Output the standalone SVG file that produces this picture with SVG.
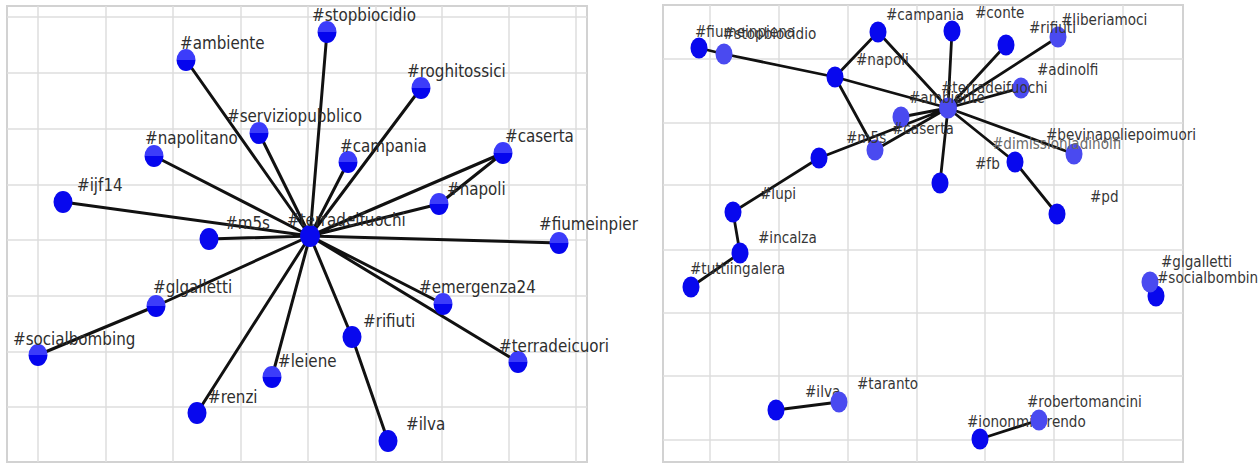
<svg xmlns="http://www.w3.org/2000/svg" width="1259" height="466" viewBox="0 0 1259 466">
<defs>
<linearGradient id="ng" x1="0" y1="0" x2="0" y2="1">
<stop offset="0" stop-color="#3c3cfa"/><stop offset="0.5" stop-color="#3c3cfa"/>
<stop offset="0.5" stop-color="#0505ee"/><stop offset="1" stop-color="#0505ee"/>
</linearGradient>
<style>
.bg{fill:#fff}
.frame{fill:none;stroke:#d2d2d2;stroke-width:2}
.grid{fill:none;stroke:#dedede;stroke-width:1.5}
.e{stroke:#111;stroke-width:3;stroke-linecap:round}
.n{fill:url(#ng)}
.nd{fill:#0808ee}
.nl{fill:#4a4af0}
.t{font-family:"DejaVu Sans","Liberation Sans",sans-serif;fill:#2e2e2e}
.tl{font-size:17px}
.tr{font-size:15.8px;fill:#363636}
.tg{fill:#6a6a6a}
</style>
</defs>
<rect class="bg" x="0" y="0" width="1259" height="466"/>
<g id="left-axes">
<rect class="frame" x="7" y="6" width="580" height="456"/>
<path class="grid" d="M38 6V462M106 6V462M173 6V462M241 6V462M308 6V462M376 6V462M442 6V462M509 6V462M576 6V462M7 17H587M7 73H587M7 129H587M7 185H587M7 240H587M7 296H587M7 352H587M7 407H587"/>
</g>
<g id="right-axes">
<rect class="frame" x="663" y="5" width="520" height="457"/>
<path class="grid" d="M710 5V462M779 5V462M848 5V462M917 5V462M985 5V462M1054 5V462M1123 5V462M663 59H1183M663 123H1183M663 185H1183M663 250H1183M663 313H1183M663 376H1183M663 440H1183"/>
</g>
<g id="connectors">
<path class="e" d="M310 236L186 60M310 236L259 133M310 236L154 156M310 236L63 202M310 236L209 239M310 236L327 32M310 236L421 88M310 236L348 162M310 236L503 153M310 236L439 204M439 204L503 153M310 236L559 243M310 236L443 304M310 236L352 337M352 337L388 441M310 236L518 362M310 236L156 306M156 306L38 355M310 236L272 377M310 236L197 413"/>
<path class="e" style="stroke-width:2.8" d="M699 48L724 54M724 54L835 77M835 77L948 108M835 77L878 32M878 32L948 108M835 77L875 150M875 150L948 108M901 117L948 108M819 158L948 108M819 158L733 212M733 212L740 253M740 253L691 287M948 108L952 31M948 108L1006 45M948 108L1058 37M948 108L1021 88M948 108L1074 154M948 108L1015 162M1015 162L1057 214M948 108L940 183M776 410L839 402M980 439L1039 420"/>
</g>
<g id="L-ambiente"><ellipse class="n" cx="186" cy="60" rx="9.5" ry="11"/><text class="t tl" transform="translate(180 49) scale(0.89 1)">#ambiente</text></g>
<g id="L-serviziopubblico"><ellipse class="n" cx="259" cy="133" rx="9.5" ry="11"/><text class="t tl" transform="translate(227 122) scale(0.89 1)">#serviziopubblico</text></g>
<g id="L-napolitano"><ellipse class="n" cx="154" cy="156" rx="9.5" ry="11"/><text class="t tl" transform="translate(145 144) scale(0.89 1)">#napolitano</text></g>
<g id="L-ijf14"><ellipse class="nd" cx="63" cy="202" rx="9.5" ry="11"/><text class="t tl" transform="translate(77 191) scale(0.89 1)">#ijf14</text></g>
<g id="L-m5s"><ellipse class="nd" cx="209" cy="239" rx="9.5" ry="11"/><text class="t tl" transform="translate(225 229) scale(0.89 1)">#m5s</text></g>
<g id="L-stopbiocidio"><ellipse class="n" cx="327" cy="32" rx="9.5" ry="11"/><text class="t tl" transform="translate(312 21) scale(0.89 1)">#stopbiocidio</text></g>
<g id="L-roghitossici"><ellipse class="n" cx="421" cy="88" rx="9.5" ry="11"/><text class="t tl" transform="translate(407 77) scale(0.89 1)">#roghitossici</text></g>
<g id="L-campania"><ellipse class="n" cx="348" cy="162" rx="9.5" ry="11"/><text class="t tl" transform="translate(340 152) scale(0.89 1)">#campania</text></g>
<g id="L-caserta"><ellipse class="n" cx="503" cy="153" rx="9.5" ry="11"/><text class="t tl" transform="translate(505 142) scale(0.89 1)">#caserta</text></g>
<g id="L-napoli"><ellipse class="n" cx="439" cy="204" rx="9.5" ry="11"/><text class="t tl" transform="translate(447 195) scale(0.89 1)">#napoli</text></g>
<g id="L-fiumeinpier"><ellipse class="n" cx="559" cy="243" rx="9.5" ry="11"/><text class="t tl" transform="translate(539 230) scale(0.89 1)">#fiumeinpier</text></g>
<g id="L-emergenza24"><ellipse class="n" cx="443" cy="304" rx="9.5" ry="11"/><text class="t tl" transform="translate(419 293) scale(0.89 1)">#emergenza24</text></g>
<g id="L-rifiuti"><ellipse class="nd" cx="352" cy="337" rx="9.5" ry="11"/><text class="t tl" transform="translate(363 327) scale(0.89 1)">#rifiuti</text></g>
<g id="L-terradeicuori"><ellipse class="n" cx="518" cy="362" rx="9.5" ry="11"/><text class="t tl" transform="translate(499 352) scale(0.89 1)">#terradeicuori</text></g>
<g id="L-ilva"><ellipse class="nd" cx="388" cy="441" rx="9.5" ry="11"/><text class="t tl" transform="translate(406 430) scale(0.89 1)">#ilva</text></g>
<g id="L-glgalletti"><ellipse class="n" cx="156" cy="306" rx="9.5" ry="11"/><text class="t tl" transform="translate(153 293) scale(0.89 1)">#glgalletti</text></g>
<g id="L-socialbombing"><ellipse class="n" cx="38" cy="355" rx="9.5" ry="11"/><text class="t tl" transform="translate(13 345) scale(0.89 1)">#socialbombing</text></g>
<g id="L-leiene"><ellipse class="n" cx="272" cy="377" rx="9.5" ry="11"/><text class="t tl" transform="translate(278 367) scale(0.89 1)">#leiene</text></g>
<g id="L-renzi"><ellipse class="nd" cx="197" cy="413" rx="9.5" ry="11"/><text class="t tl" transform="translate(208 403) scale(0.89 1)">#renzi</text></g>
<g id="L-terradeifuochi"><ellipse class="nd" cx="310" cy="236" rx="10" ry="11"/><text class="t tl" transform="translate(287 226) scale(0.89 1)">#terradeifuochi</text></g>
<g id="R-fiumeinpiena"><ellipse class="nd" cx="699" cy="48" rx="8.5" ry="10.5"/><text class="t tr" transform="translate(695 37) scale(0.86 1)">#fiumeinpiena</text></g>
<g id="R-stopbiocidio"><ellipse class="nl" cx="724" cy="54" rx="8.5" ry="10.5"/><text class="t tr" transform="translate(723 39) scale(0.86 1)">#stopbiocidio</text></g>
<g id="R-napoli"><ellipse class="nd" cx="835" cy="77" rx="8.5" ry="10.5"/><text class="t tr" transform="translate(856 65) scale(0.86 1)">#napoli</text></g>
<g id="R-campania"><ellipse class="nd" cx="878" cy="32" rx="8.5" ry="10.5"/><text class="t tr" transform="translate(886 20) scale(0.86 1)">#campania</text></g>
<g id="R-n1"><ellipse class="nd" cx="952" cy="31" rx="8.5" ry="10.5"/></g>
<g id="R-conte"><ellipse class="nd" cx="1006" cy="45" rx="8.5" ry="10.5"/><text class="t tr" transform="translate(975 18) scale(0.86 1)">#conte</text></g>
<g id="R-rifiuti"><ellipse class="nl" cx="1058" cy="37" rx="8.5" ry="10.5"/><text class="t tr" transform="translate(1029 33) scale(0.86 1)">#rifiuti</text></g>
<g id="R-liberiamoci"><text class="t tr" transform="translate(1061 25) scale(0.86 1)">#liberiamoci</text></g>
<g id="R-adinolfi"><ellipse class="nl" cx="1021" cy="88" rx="8.5" ry="10.5"/><text class="t tr" transform="translate(1037 75) scale(0.86 1)">#adinolfi</text></g>
<g id="R-caserta"><ellipse class="nl" cx="901" cy="117" rx="8.5" ry="10.5"/><text class="t tr" transform="translate(892 134) scale(0.86 1)">#caserta</text></g>
<g id="R-m5s"><ellipse class="nl" cx="875" cy="150" rx="8.5" ry="10.5"/><text class="t tr" transform="translate(846 143) scale(0.86 1)">#m5s</text></g>
<g id="R-lupi"><ellipse class="nd" cx="819" cy="158" rx="8.5" ry="10.5"/><text class="t tr" transform="translate(760 199) scale(0.86 1)">#lupi</text></g>
<g id="R-n2"><ellipse class="nd" cx="733" cy="212" rx="8.5" ry="10.5"/></g>
<g id="R-incalza"><ellipse class="nd" cx="740" cy="253" rx="8.5" ry="10.5"/><text class="t tr" transform="translate(758 243) scale(0.86 1)">#incalza</text></g>
<g id="R-tuttiingalera"><ellipse class="nd" cx="691" cy="287" rx="8.5" ry="10.5"/><text class="t tr" transform="translate(690 274) scale(0.86 1)">#tuttiingalera</text></g>
<g id="R-n3"><ellipse class="nd" cx="940" cy="183" rx="8.5" ry="10.5"/></g>
<g id="R-fb"><ellipse class="nd" cx="1015" cy="162" rx="8.5" ry="10.5"/><text class="t tr" transform="translate(975 169) scale(0.86 1)">#fb</text></g>
<g id="R-bevinapoliepoimuori"><ellipse class="nl" cx="1074" cy="154" rx="8.5" ry="10.5"/><text class="t tr" transform="translate(1046 140) scale(0.86 1)">#bevinapoliepoimuori</text></g>
<g id="R-dimissioniadinolfi"><text class="t tr tg" transform="translate(992 149) scale(0.86 1)">#dimissioniadinolfi</text></g>
<g id="R-pd"><ellipse class="nd" cx="1057" cy="214" rx="8.5" ry="10.5"/><text class="t tr" transform="translate(1090 202) scale(0.86 1)">#pd</text></g>
<g id="R-terradeifuochi"><ellipse class="nl" cx="948" cy="108" rx="9" ry="10.5"/><text class="t tr" transform="translate(941 93) scale(0.86 1)">#terradeifuochi</text></g>
<g id="R-ambiente"><text class="t tr" transform="translate(909 103) scale(0.86 1)">#ambiente</text></g>
<g id="R-ilva"><ellipse class="nd" cx="776" cy="410" rx="8.5" ry="10.5"/><text class="t tr" transform="translate(805 397) scale(0.86 1)">#ilva</text></g>
<g id="R-taranto"><ellipse class="nl" cx="839" cy="402" rx="8.5" ry="10.5"/><text class="t tr" transform="translate(857 389) scale(0.86 1)">#taranto</text></g>
<g id="R-socialbombin"><ellipse class="nd" cx="1156" cy="296" rx="8.5" ry="10.5"/></g>
<g id="R-glgalletti"><ellipse class="nl" cx="1150" cy="282" rx="8.5" ry="10.5"/><text class="t tr" transform="translate(1161 267) scale(0.86 1)">#glgalletti</text><text class="t tr" transform="translate(1157 283) scale(0.86 1)">#socialbombin</text></g>
<g id="R-iononmiarrendo"><ellipse class="nd" cx="980" cy="439" rx="8.5" ry="10.5"/><text class="t tr" transform="translate(967 427) scale(0.86 1)">#iononmiarrendo</text></g>
<g id="R-robertomancini"><ellipse class="nl" cx="1039" cy="420" rx="8.5" ry="10.5"/><text class="t tr" transform="translate(1027 407) scale(0.86 1)">#robertomancini</text></g>
</svg>
